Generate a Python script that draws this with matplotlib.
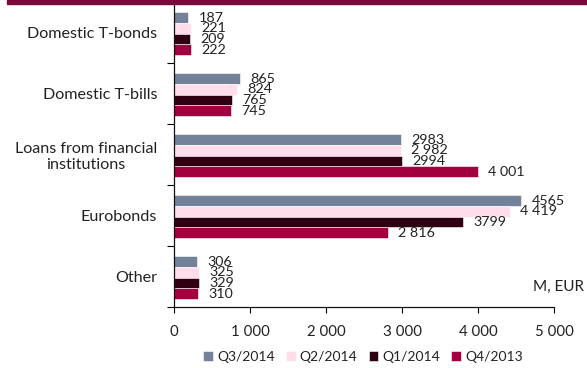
import matplotlib
matplotlib.use("Agg")
import matplotlib.pyplot as plt
from matplotlib.patches import Rectangle
import numpy as np

plt.rcParams["font.family"] = ["Lato", "DejaVu Sans"]

categories = [
    "Domestic T-bonds",
    "Domestic T-bills",
    "Loans from financial\ninstitutions",
    "Eurobonds",
    "Other",
]
series_names = ["Q3/2014", "Q2/2014", "Q1/2014", "Q4/2013"]
series_colors = ["#738299", "#FFDDEB", "#2E0012", "#A3003F"]

q3_2014 = [187, 865, 2983, 4565, 306]
q2_2014 = [221, 824, 2982, 4419, 325]
q1_2014 = [209, 765, 2994, 3799, 329]
q4_2013 = [222, 745, 4001, 2816, 310]

q3_2014_labels = ["187", "865", "2983", "4565", "306"]
q2_2014_labels = ["221", "824", "2 982", "4 419", "325"]
q1_2014_labels = ["209", "765", "2994", "3799", "329"]
q4_2013_labels = ["222", "745", "4 001", "2 816", "310"]

x_ticks = [0, 1000, 2000, 3000, 4000, 5000]
x_tick_labels = ["0", "1 000", "2 000", "3 000", "4 000", "5 000"]

series_values = [q3_2014, q2_2014, q1_2014, q4_2013]
series_labels = [q3_2014_labels, q2_2014_labels, q1_2014_labels, q4_2013_labels]

text_color = "#222222"

fig = plt.figure(figsize=(5.87, 3.68), dpi=100)
ax = fig.add_axes([0.2964, 0.1658, 0.6474, 0.8288])

# maroon rule along the top edge
fig.patches.append(
    Rectangle((7 / 587, 1 - 4 / 368), 580 / 587, 4 / 368,
              transform=fig.transFigure, color="#7B0A3C", zorder=10)
)

y = np.arange(len(categories))
bar_h = 0.176
for i, (vals, labs, name, col) in enumerate(
        zip(series_values, series_labels, series_names, series_colors)):
    pos = y - 1.5 * bar_h + i * bar_h + 0.02
    ax.barh(pos, vals, height=bar_h, color=col, edgecolor="white",
            linewidth=0.4, label=name)
    for p, v, t in zip(pos, vals, labs):
        ax.annotate(t, (v, p), xytext=(7.5, 0), textcoords="offset points",
                    ha="left", va="center", fontsize=10.3, color=text_color)

ax.set_xlim(0, 5000)
ax.set_ylim(len(categories) - 0.5, -0.5)

ax.set_xticks(x_ticks)
ax.set_xticklabels(x_tick_labels, fontsize=10.8, color=text_color)
ax.tick_params(axis="x", direction="out", length=4, width=0.8, pad=9)

ax.set_yticks(y)
ax.set_yticklabels(categories, fontsize=11.6, color=text_color,
                   multialignment="center")
ax.tick_params(axis="y", which="major", length=0, pad=12)
ax.set_yticks(np.arange(len(categories) + 1) - 0.5, minor=True)
ax.tick_params(axis="y", which="minor", direction="out", length=5, width=0.8)

for side in ["top", "right"]:
    ax.spines[side].set_visible(False)
for side in ["left", "bottom"]:
    ax.spines[side].set_color("#111111")
    ax.spines[side].set_linewidth(0.9)

fig.text(584 / 587, 1 - 287 / 368, "M, EUR", ha="right", va="center",
         fontsize=11, color=text_color)

fig.legend(loc="center", bbox_to_anchor=(363 / 587, 1 - 357 / 368), ncol=4,
           frameon=False, fontsize=10, handlelength=0.7, handleheight=0.7,
           handletextpad=0.3, columnspacing=0.8, labelcolor=text_color)

fig.savefig("out.png", dpi=100)
